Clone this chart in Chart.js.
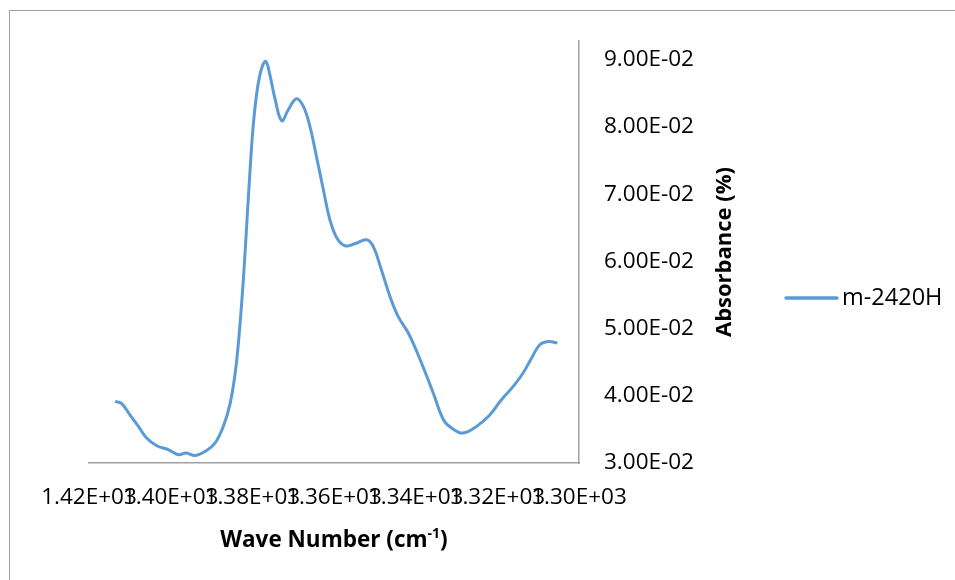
<!DOCTYPE html>
<html>
<head>
<meta charset="utf-8">
<script src="https://cdn.jsdelivr.net/npm/chart.js@4.4.1/dist/chart.umd.min.js"></script>
<style>
    html, body { margin: 0; padding: 0; background: #fff; overflow: hidden; }
    #frame { position: absolute; left: 9px; top: 10px; width: 1000px; height: 1000px; border: 1px solid #a0a0a0; }
    #wrap { position: absolute; left: 0; top: 0; width: 955px; height: 580px; }
</style>
</head>
<body>
<div id="frame"></div>
<div id="wrap"><canvas id="chart-area" width="955" height="580"></canvas></div>
<script>
// values
var seriesName = "m-2420H";
var wavenumber = [1413.6, 1412.0, 1410.0, 1407.9, 1405.9, 1403.4, 1400.6, 1398.1, 1396.2, 1394.0,
    1391.2, 1389.1, 1387.1, 1385.5, 1384.2, 1383.2, 1382.2, 1381.4, 1380.6, 1379.8,
    1378.8, 1377.7, 1376.7, 1375.8, 1374.4, 1372.8, 1371.2, 1369.2, 1367.5, 1365.9,
    1364.3, 1362.6, 1361.0, 1359.3, 1357.3, 1354.9, 1352.0, 1350.4, 1348.4, 1346.3,
    1344.3, 1341.8, 1338.9, 1335.7, 1333.2, 1331.2, 1328.4, 1325.1, 1321.8, 1319.0,
    1316.1, 1313.7, 1311.6, 1309.6, 1307.5, 1305.3];
var absorbance = [0.03917, 0.03882, 0.03719, 0.03545, 0.03372, 0.03257, 0.03198, 0.03124, 0.03149, 0.03113,
    0.03187, 0.03298, 0.03545, 0.03868, 0.04339, 0.04934, 0.05728, 0.06521, 0.07315, 0.08009,
    0.08555, 0.08878, 0.08976, 0.08803, 0.08406, 0.08093, 0.08257, 0.08421, 0.08306, 0.08009,
    0.07562, 0.07067, 0.06620, 0.06348, 0.06233, 0.06263, 0.06323, 0.06223, 0.05876, 0.05479,
    0.05181, 0.04934, 0.04537, 0.04042, 0.03644, 0.03521, 0.03446, 0.03545, 0.03719, 0.03942,
    0.04140, 0.04339, 0.04562, 0.04760, 0.04809, 0.04786];
var xTicks = [1420, 1400, 1380, 1360, 1340, 1320, 1300];
var yTicks = [0.03, 0.04, 0.05, 0.06, 0.07, 0.08, 0.09];

var lineColor = "#5B9BD5";
var fontName = "'Open Sans', sans-serif";

function sci(v, digits) {
    var parts = Number(v).toExponential(digits).split("e");
    var e = parseInt(parts[1], 10);
    return parts[0] + "E" + (e < 0 ? "-" : "+") + (Math.abs(e) < 10 ? "0" : "") + Math.abs(e);
}

var points = wavenumber.map(function (w, i) {
    return { x: w, y: absorbance[i] };
});

// axis titles + legend, drawn like the excel original
var decorations = {
    id: "decorations",
    afterDraw: function (chart) {
        var ctx = chart.ctx, a = chart.chartArea;
        ctx.save();
        ctx.fillStyle = "#000";

        // x title with superscript
        var midX = (a.left + a.right) / 2;
        var main = "Wave Number (cm", sup = "-1", tail = ")";
        ctx.font = "bold 22.5px " + fontName;
        var w1 = ctx.measureText(main).width, w3 = ctx.measureText(tail).width;
        ctx.font = "bold 14px " + fontName;
        var w2 = ctx.measureText(sup).width;
        var x0 = midX - (w1 + w2 + w3) / 2, yb = a.bottom + 84;
        ctx.textBaseline = "alphabetic";
        ctx.textAlign = "left";
        ctx.font = "bold 22.5px " + fontName;
        ctx.fillText(main, x0, yb);
        ctx.font = "bold 14px " + fontName;
        ctx.fillText(sup, x0 + w1, yb - 9);
        ctx.font = "bold 22.5px " + fontName;
        ctx.fillText(tail, x0 + w1 + w2, yb);

        // y title, reading bottom to top
        ctx.save();
        ctx.translate(a.right + 146, (a.top + a.bottom) / 2);
        ctx.rotate(-Math.PI / 2);
        ctx.textAlign = "center";
        ctx.textBaseline = "middle";
        ctx.font = "bold 22px " + fontName;
        ctx.fillText("Absorbance (%)", 0, 0);
        ctx.restore();

        // legend
        var ly = (a.top + a.bottom) / 2 + 46;
        ctx.strokeStyle = lineColor;
        ctx.lineWidth = 3.5;
        ctx.lineCap = "round";
        ctx.beginPath();
        ctx.moveTo(a.right + 207, ly);
        ctx.lineTo(a.right + 258, ly);
        ctx.stroke();
        ctx.font = "23.5px " + fontName;
        ctx.textAlign = "left";
        ctx.textBaseline = "middle";
        ctx.fillText(seriesName, a.right + 263, ly);
        ctx.restore();
    }
};

var config = {
    type: "line",
    data: {
        datasets: [{
            label: seriesName,
            data: points,
            borderColor: lineColor,
            backgroundColor: lineColor,
            borderWidth: 3,
            pointRadius: 0,
            tension: 0.4,
            fill: false
        }]
    },
    options: {
        responsive: false,
        animation: false,
        layout: {
            padding: { left: 89, top: 41, right: 256, bottom: 0 }
        },
        plugins: {
            legend: { display: false },
            tooltip: { enabled: false }
        },
        scales: {
            x: {
                type: "linear",
                position: "bottom",
                reverse: true,
                min: xTicks[xTicks.length - 1],
                max: xTicks[0],
                afterBuildTicks: function (scale) {
                    scale.ticks = xTicks.map(function (v) { return { value: v }; });
                },
                afterFit: function (scale) { scale.height = 117; },
                grid: { display: false, drawTicks: false },
                border: { display: true, color: "#a0a0a0", width: 1.5 },
                ticks: {
                    autoSkip: false,
                    maxRotation: 0,
                    minRotation: 0,
                    padding: 21,
                    color: "#000",
                    font: { family: fontName, size: 22.5 },
                    callback: function (v) { return sci(v, 2); }
                }
            },
            y: {
                type: "linear",
                position: "right",
                min: yTicks[0],
                max: 0.0928,
                afterBuildTicks: function (scale) {
                    scale.ticks = yTicks.map(function (v) { return { value: v }; });
                },
                afterFit: function (scale) { scale.width = 120; },
                grid: { display: false, drawTicks: false },
                border: { display: true, color: "#a0a0a0", width: 1.5 },
                ticks: {
                    padding: 25,
                    color: "#000",
                    font: { family: fontName, size: 22.5 },
                    callback: function (v) { return sci(v, 2); }
                }
            }
        }
    },
    plugins: [decorations]
};

window.onload = function () {
    var ctx = document.getElementById("chart-area").getContext("2d");
    window.myLine = new Chart(ctx, config);
};
</script>
</body>
</html>
